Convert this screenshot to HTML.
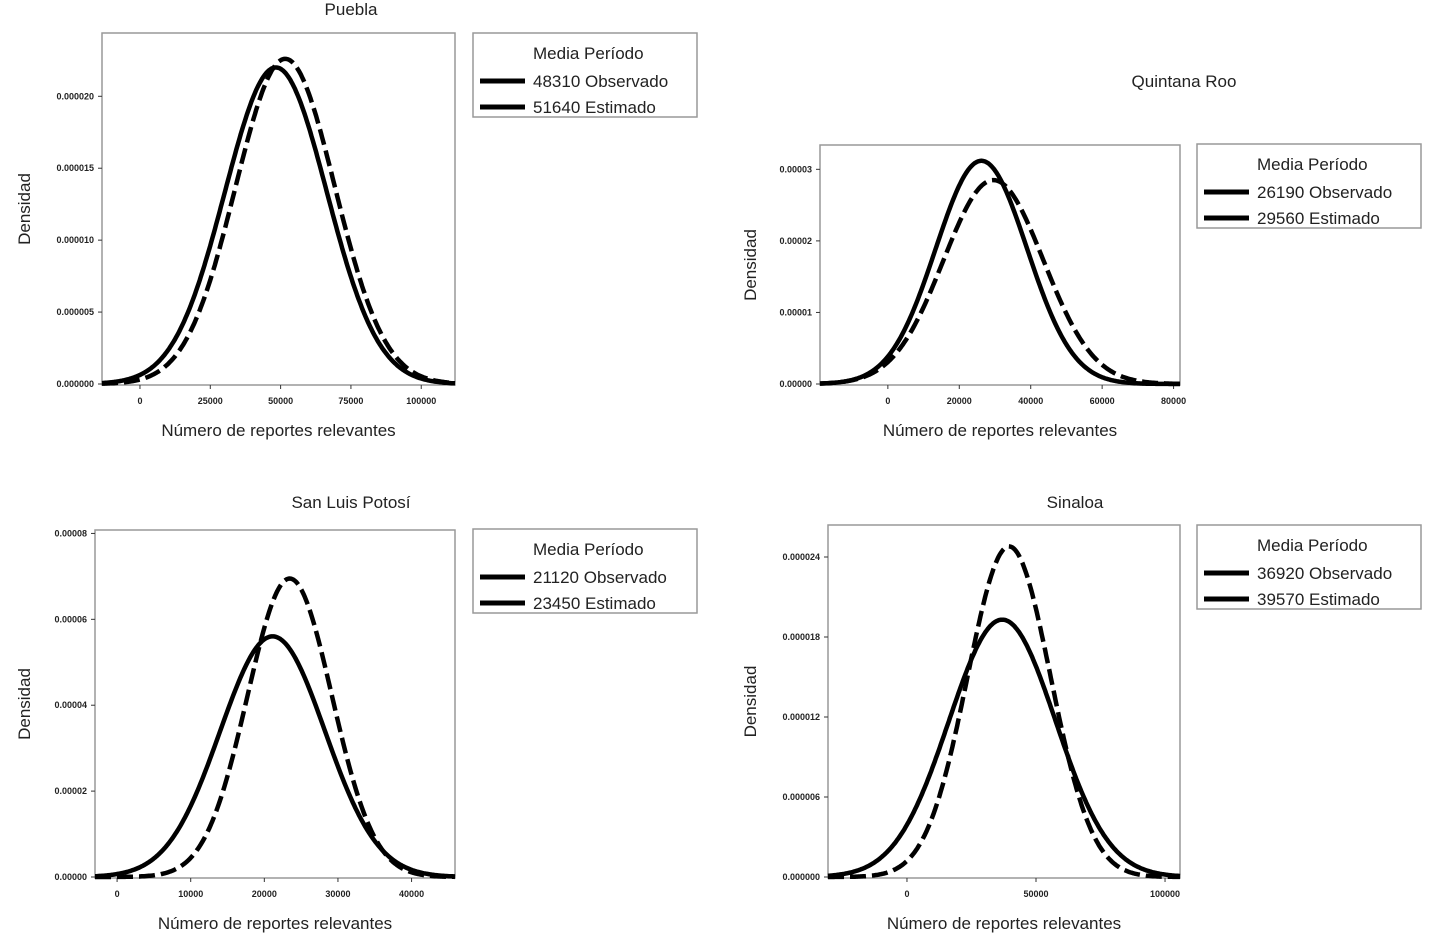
<!DOCTYPE html>
<html><head><meta charset="utf-8"><style>
html,body{margin:0;padding:0;background:#fff;}
svg{display:block;font-family:"Liberation Sans",sans-serif;}
</style></head><body>
<svg id="chart" width="1431" height="945" viewBox="0 0 1431 945"></svg>
<script>
// Panel data (means, std devs, ticks)
const panelNames = ["Puebla", "Quintana Roo", "San Luis Potosí", "Sinaloa"];
const obsMeans = [48310, 26190, 21120, 36920];
const estMeans = [51640, 29560, 23450, 39570];
const obsSds = [18130, 12790, 7120, 20670];
const estSds = [17650, 14000, 5740, 16090];
const xTicksP = [0, 25000, 50000, 75000, 100000];
const xTicksQ = [0, 20000, 40000, 60000, 80000];
const xTicksS = [0, 10000, 20000, 30000, 40000];
const xTicksN = [0, 50000, 100000];
const yTicksP = [0, 0.000005, 0.00001, 0.000015, 0.00002];
const yTicksQ = [0, 0.00001, 0.00002, 0.00003];
const yTicksS = [0, 0.00002, 0.00004, 0.00006, 0.00008];
const yTicksN = [0, 0.000006, 0.000012, 0.000018, 0.000024];
const yTickLabelsP = ["0.000000","0.000005","0.000010","0.000015","0.000020"];
const yTickLabelsQ = ["0.00000","0.00001","0.00002","0.00003"];
const yTickLabelsS = ["0.00000","0.00002","0.00004","0.00006","0.00008"];
const yTickLabelsN = ["0.000000","0.000006","0.000012","0.000018","0.000024"];

const layout = [
 {box:[102,33,455,385], xd:[-13500,112000], yd:[0,0.00002 + 0.0000044], xt:xTicksP, yt:yTicksP, yl:yTickLabelsP, title:[351,15], leg:[473,33], yTitleX:24},
 {box:[820,145,1180,385], xd:[-19000,81800], yd:[0,0.0000334], xt:xTicksQ, yt:yTicksQ, yl:yTickLabelsQ, title:[1184,87], leg:[1197,144], yTitleX:750},
 {box:[95,530,455,878], xd:[-3000,45900], yd:[0,0.0000808], xt:xTicksS, yt:yTicksS, yl:yTickLabelsS, title:[351,508], leg:[473,529], yTitleX:24},
 {box:[828,525,1180,878], xd:[-30600,105800], yd:[0,0.0000264], xt:xTicksN, yt:yTicksN, yl:yTickLabelsN, title:[1075,508], leg:[1197,525], yTitleX:750}
];
const NS="http://www.w3.org/2000/svg";
const svg=document.getElementById('chart');
function mk(tag,attrs,parent){const e=document.createElementNS(NS,tag);for(const k in attrs)e.setAttribute(k,attrs[k]);(parent||svg).appendChild(e);return e;}
function fmt(v){return String(v);}
layout.forEach((L,i)=>{
  const [x0,y0,x1,y1]=L.box;
  const g=mk('g',{});
  
  
  const sx=v=>x0+(v-L.xd[0])/(L.xd[1]-L.xd[0])*(x1-x0);
  const sy=v=>y1-1-(v-L.yd[0])/(L.yd[1]-L.yd[0])*(y1-1-y0);
  const fr=mk('rect',{x:x0,y:y0,width:x1-x0,height:y1-y0,fill:'#fff',stroke:'#999','stroke-width':1.5},g);
  
  
  const t=mk('text',{x:L.title[0],y:L.title[1],'text-anchor':'middle','font-size':17,fill:'#222'},g);
  t.textContent=panelNames[i];
  
  
  L.yt.forEach((v,j)=>{
    const y=sy(v);
    mk('line',{x1:x0-4,x2:x0,y1:y,y2:y,stroke:'#333','stroke-width':1},g);
    const tl=mk('text',{x:x0-8,y:y+3,'text-anchor':'end','font-size':9,'font-weight':'bold',fill:'#222'},g);
    tl.textContent=L.yl[j];
    
    
  });
  L.xt.forEach(v=>{
    const x=sx(v);
    mk('line',{x1:x,x2:x,y1:y1,y2:y1+4,stroke:'#333','stroke-width':1},g);
    const tl=mk('text',{x:x,y:y1+19,'text-anchor':'middle','font-size':9,'font-weight':'bold',fill:'#222'},g);
    tl.textContent=fmt(v);
    
    
  });
  const xt=mk('text',{x:(x0+x1)/2,y:y1+51,'text-anchor':'middle','font-size':17,fill:'#222'},g);
  xt.textContent='Número de reportes relevantes';
  
  
  const yc=(y0+y1)/2;
  const yt=mk('text',{x:L.yTitleX,y:yc,'text-anchor':'middle','font-size':17,fill:'#222',transform:`rotate(-90 ${L.yTitleX} ${yc})`,dy:6},g);
  yt.textContent='Densidad';
  
  
  const series=[[obsMeans[i],obsSds[i],null,'observed-curve'],[estMeans[i],estSds[i],'16,6','estimated-curve']];
  series.forEach(s=>{
    const [m,sd,dash,name]=s;
    let d='';
    for(let k=0;k<=300;k++){
      const xv=L.xd[0]+(L.xd[1]-L.xd[0])*k/300;
      const yv=Math.exp(-0.5*((xv-m)/sd)**2)/(sd*Math.sqrt(2*Math.PI));
      d+=(k?'L':'M')+sx(xv).toFixed(1)+','+sy(yv).toFixed(1);
    }
    const p=mk('path',{d:d,fill:'none',stroke:'#000','stroke-width':4.5,'stroke-linejoin':'round'},g);
    if(dash)p.setAttribute('stroke-dasharray',dash);
    
    
  });
  const [lx,ly]=L.leg;
  const lg=mk('g',{},g);
  
  
  mk('rect',{x:lx,y:ly,width:224,height:84,fill:'#fff',stroke:'#999','stroke-width':1.5},lg);
  const h=mk('text',{x:lx+60,y:ly+26,'font-size':17,fill:'#222'},lg);
  h.textContent='Media  Período';
  const rows=[[obsMeans[i],'Observado',null],[estMeans[i],'Estimado',null]];
  rows.forEach((r,j)=>{
    const yy=ly+48+j*26;
    const ln=mk('line',{x1:lx+7,x2:lx+52,y1:yy,y2:yy,stroke:'#000','stroke-width':5},lg);
    
    
    const tx=mk('text',{x:lx+60,y:yy+6,'font-size':17,fill:'#222'},lg);
    tx.textContent=r[0]+' '+r[1];
    
    
  });
});
</script>
</body></html>
